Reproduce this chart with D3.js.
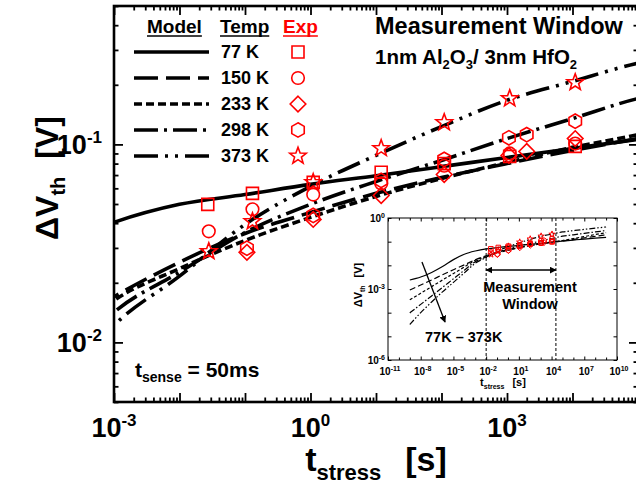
<!DOCTYPE html>
<html>
<head>
<meta charset="utf-8">
<script src="https://cdn.jsdelivr.net/npm/d3@7/dist/d3.min.js"></script>
<style>
body { margin: 0; background: #fff; }
svg text { font-family: "Liberation Sans", Arial, sans-serif; font-weight: bold; }
</style>
</head>
<body>
<svg id="chart" width="636" height="491"></svg>
<script>
// ---- data ----
var temps = ['77 K', '150 K', '233 K', '298 K', '373 K'];

// model curves, t_stress [s] vs dVth [V]
var modelT   = [1e-9, 1e-8, 1e-7, 1e-6, 1e-5, 1e-4, 1e-3, 1e-2, 1e-1, 1, 10, 100, 1e3, 1e4, 1e5, 1e6, 1e7, 1e8, 1e9];
var model77  = [0.0024, 0.0032, 0.0050, 0.0089, 0.0174, 0.0295, 0.0404, 0.0498, 0.0558, 0.0628, 0.0695, 0.0772, 0.0859, 0.0954, 0.106, 0.117, 0.129, 0.141, 0.152];
var model150 = [0.00091, 0.00148, 0.0024, 0.0040, 0.0065, 0.0105, 0.0170, 0.0254, 0.0355, 0.0453, 0.0566, 0.068, 0.080, 0.0932, 0.107, 0.124, 0.145, 0.168, 0.195];
var model233 = [0.00035, 0.00066, 0.00126, 0.0024, 0.0045, 0.0085, 0.0163, 0.0236, 0.0327, 0.0428, 0.0546, 0.0673, 0.081, 0.0966, 0.112, 0.135, 0.164, 0.20, 0.24];
var model298 = [0.0000977, 0.000224, 0.00051, 0.00117, 0.0027, 0.0062, 0.0142, 0.0226, 0.0359, 0.0498, 0.065, 0.083, 0.107, 0.135, 0.1705, 0.195, 0.224, 0.257, 0.295];
var model373 = [0.0000316, 0.0001, 0.000282, 0.00076, 0.0019, 0.0048, 0.0122, 0.0216, 0.0394, 0.0614, 0.088, 0.123, 0.167, 0.208, 0.257, 0.292, 0.331, 0.372, 0.417];

// measured points
var exp77T  = [0.027, 0.13, 1.1, 12, 110, 1100, 11000];
var exp77V  = [0.0498, 0.0566, 0.0643, 0.0723, 0.080, 0.087, 0.0977];
var exp150T = [0.028, 0.13, 1.1, 12, 110, 1100, 11000];
var exp150V = [0.0364, 0.047, 0.0558, 0.0635, 0.078, 0.090, 0.101];
var exp233T = [0.107, 1.1, 12, 110, 1070, 2000, 11000];
var exp233V = [0.0285, 0.0418, 0.0552, 0.0705, 0.088, 0.0922, 0.107];
var exp298T = [0.107, 1.1, 12, 110, 1070, 2000, 11000];
var exp298V = [0.0299, 0.0438, 0.0658, 0.084, 0.108, 0.112, 0.131];
var exp373T = [0.028, 0.13, 1.1, 12, 110, 1100, 11000];
var exp373V = [0.0288, 0.0408, 0.0643, 0.0955, 0.129, 0.1705, 0.2056];

// tick labels
var xTickVals = [1e-3, 1e0, 1e3];
var xTickExp  = ['-3', '0', '3'];
var yTickVals = [1e-2, 1e-1];
var yTickExp  = ['-2', '-1'];
var insetXTickVals = [1e-11, 1e-8, 1e-5, 1e-2, 1e1, 1e4, 1e7, 1e10];
var insetXTickExp  = ['-11', '-8', '-5', '-2', '1', '4', '7', '10'];
var insetYTickVals = [1e-6, 1e-3, 1e0];
var insetYTickExp  = ['-6', '-3', '0'];
var windowT = [0.01, 25000];

// ---- styles ----
var RED = '#ff0000';
var shapes = ['square', 'circle', 'diamond', 'hexagon', 'star'];
var dashes = [null, '24,8', '8,4', '24,6,3,6', '24,7,3,7,3,7'];
var insetDashes = [null, '6,3', '3,2', '6,2,1.5,2', '6,2,1.5,2,1.5,2'];

var models = [model77, model150, model233, model298, model373];
var expTs = [exp77T, exp150T, exp233T, exp298T, exp373T];
var expVs = [exp77V, exp150V, exp233V, exp298V, exp373V];

var svg = d3.select('#chart');
var defs = svg.append('defs');

var x = d3.scaleLog().domain([1e-3, 1e5]).range([114, 638]);
var y = d3.scaleLog().domain([0.005, 0.5]).range([402, 6]);

var ix = d3.scaleLog().domain([1e-11, 1e10]).range([388, 617]);
var iy = d3.scaleLog().domain([1e-6, 1]).range([360, 218]);

defs.append('clipPath').attr('id', 'clipMain').append('rect')
  .attr('x', 114).attr('y', 6).attr('width', 524).attr('height', 396);
defs.append('clipPath').attr('id', 'clipInset').append('rect')
  .attr('x', 388).attr('y', 218).attr('width', 229).attr('height', 142);

defs.append('marker').attr('id', 'head').attr('viewBox', '0 0 10 10')
  .attr('refX', 9).attr('refY', 5).attr('markerWidth', 7).attr('markerHeight', 7)
  .attr('markerUnits', 'userSpaceOnUse').attr('orient', 'auto-start-reverse')
  .append('path').attr('d', 'M0,0L10,5L0,10Z').attr('fill', '#000');

function markerPath(shape, s) {
  if (shape === 'circle') return d3.symbol(d3.symbolCircle, Math.PI * s * s * 1.1)();
  var pts = [], i, a, r;
  if (shape === 'square') pts = [[-s, -s], [s, -s], [s, s], [-s, s]];
  if (shape === 'diamond') pts = [[0, -s * 1.3], [s * 1.3, 0], [0, s * 1.3], [-s * 1.3, 0]];
  if (shape === 'hexagon') {
    for (i = 0; i < 6; i++) { a = Math.PI / 3 * i - Math.PI / 2; pts.push([s * 1.2 * Math.cos(a), s * 1.2 * Math.sin(a)]); }
  }
  if (shape === 'star') {
    for (i = 0; i < 10; i++) {
      a = Math.PI / 5 * i - Math.PI / 2; r = i % 2 ? s * 0.6 : s * 1.45;
      pts.push([r * Math.cos(a), r * Math.sin(a)]);
    }
  }
  return 'M' + pts.map(function(p) { return p[0].toFixed(2) + ',' + p[1].toFixed(2); }).join('L') + 'Z';
}

function minorTicks(lo, hi, dom) {
  var out = [];
  for (var k = lo; k <= hi; k++) for (var m = 2; m < 10; m++) {
    var v = m * Math.pow(10, k);
    if (v >= dom[0] * 0.999 && v <= dom[1] * 1.001) out.push(v);
  }
  return out;
}
function decades(lo, hi) { return d3.range(lo, hi + 1).map(function(k) { return Math.pow(10, k); }); }

function addAxes(parent, xs, ys, xMaj, xMin, yMaj, yMin, tl, ts, sw, fw) {
  var xr = xs.range(), yr = ys.range();
  var sides = [
    {ax: d3.axisBottom(xs), tr: 'translate(0,' + yr[0] + ')', maj: xMaj, min: xMin},
    {ax: d3.axisTop(xs), tr: 'translate(0,' + yr[1] + ')', maj: xMaj, min: xMin},
    {ax: d3.axisLeft(ys), tr: 'translate(' + xr[0] + ',0)', maj: yMaj, min: yMin},
    {ax: d3.axisRight(ys), tr: 'translate(' + xr[1] + ',0)', maj: yMaj, min: yMin}
  ];
  sides.forEach(function(sd) {
    [[sd.maj, tl], [sd.min, ts]].forEach(function(p) {
      var g = parent.append('g').attr('transform', sd.tr)
        .call(sd.ax.tickValues(p[0]).tickSize(-p[1]).tickSizeOuter(0).tickFormat(function() { return ''; }));
      g.select('.domain').remove();
      g.selectAll('line').attr('stroke', '#000').attr('stroke-width', sw);
    });
  });
  parent.append('rect').attr('x', xr[0]).attr('y', yr[1])
    .attr('width', xr[1] - xr[0]).attr('height', yr[0] - yr[1])
    .attr('fill', 'none').attr('stroke', '#000').attr('stroke-width', fw);
}

function supText(t, base, exp, sfs, rise) {
  t.append('tspan').text(base);
  t.append('tspan').attr('font-size', sfs).attr('dy', -rise).text(exp);
}

// ---- main plot ----
var lineMain = d3.line().x(function(d) { return x(d[0]); }).y(function(d) { return y(d[1]); }).curve(d3.curveMonotoneX);

var curves = svg.append('g').attr('clip-path', 'url(#clipMain)');
models.forEach(function(m, i) {
  curves.append('path').datum(d3.zip(modelT, m))
    .attr('d', lineMain).attr('fill', 'none').attr('stroke', '#000')
    .attr('stroke-width', 3.6).attr('stroke-dasharray', dashes[i]);
});

var pts = svg.append('g');
expTs.forEach(function(ts, i) {
  pts.selectAll('.m' + i).data(d3.zip(ts, expVs[i])).enter().append('path')
    .attr('class', 'm' + i)
    .attr('transform', function(d) { return 'translate(' + x(d[0]) + ',' + y(d[1]) + ')'; })
    .attr('d', markerPath(shapes[i], 6))
    .attr('fill', 'none').attr('stroke', RED).attr('stroke-width', 1.6);
});

addAxes(svg.append('g'), x, y, decades(-3, 5), minorTicks(-3, 4, x.domain()),
  decades(-2, -1), minorTicks(-3, -1, y.domain()), 9, 4.5, 1.8, 2.6);

xTickVals.forEach(function(v, i) {
  var t = svg.append('text').attr('x', x(v)).attr('y', 437).attr('text-anchor', 'middle').attr('font-size', 27);
  supText(t, '10', xTickExp[i], 17, 11);
});
yTickVals.forEach(function(v, i) {
  var t = svg.append('text').attr('x', 102).attr('y', y(v) + 10).attr('text-anchor', 'end').attr('font-size', 27);
  supText(t, '10', yTickExp[i], 17, 11);
});

// axis titles
var yt = svg.append('text').attr('transform', 'translate(58,178) rotate(-90)')
  .attr('text-anchor', 'middle').attr('font-size', 32);
yt.append('tspan').text('\u0394V');
yt.append('tspan').attr('font-size', 20).attr('dy', 7).text('th');
yt.append('tspan').attr('dy', -7).attr('dx', 18).text('[V]');

var xt = svg.append('text').attr('x', 376).attr('y', 471).attr('text-anchor', 'middle').attr('font-size', 34);
xt.append('tspan').text('t');
xt.append('tspan').attr('font-size', 22).attr('dy', 9).text('stress');
xt.append('tspan').attr('dy', -9).attr('dx', 24).text('[s]');

var ts = svg.append('text').attr('x', 135).attr('y', 377).attr('font-size', 21);
ts.append('tspan').text('t');
ts.append('tspan').attr('font-size', 14).attr('dy', 5).text('sense');
ts.append('tspan').attr('dy', -5).text(' = 50ms');

// titles
svg.append('text').attr('x', 375).attr('y', 34).attr('font-size', 23.5).text('Measurement Window');
var st = svg.append('text').attr('x', 375).attr('y', 64).attr('font-size', 20.5);
st.append('tspan').text('1nm Al');
st.append('tspan').attr('font-size', 13).attr('dy', 5).text('2');
st.append('tspan').attr('dy', -5).text('O');
st.append('tspan').attr('font-size', 13).attr('dy', 5).text('3');
st.append('tspan').attr('dy', -5).text('/ 3nm HfO');
st.append('tspan').attr('font-size', 13).attr('dy', 5).text('2');

// legend
var heads = [['Model', 147, '#000'], ['Temp', 220, '#000'], ['Exp', 283, RED]];
heads.forEach(function(h) {
  var t = svg.append('text').attr('x', h[1]).attr('y', 33).attr('font-size', 19).attr('fill', h[2]).text(h[0]);
  var w = t.node().getComputedTextLength();
  svg.append('line').attr('x1', h[1]).attr('x2', h[1] + w).attr('y1', 36).attr('y2', 36)
    .attr('stroke', h[2]).attr('stroke-width', 1.6);
});
temps.forEach(function(name, i) {
  var yc = 52 + 26 * i;
  svg.append('line').attr('x1', 134).attr('x2', 209).attr('y1', yc).attr('y2', yc)
    .attr('stroke', '#000').attr('stroke-width', 3.6).attr('stroke-dasharray', dashes[i]);
  svg.append('text').attr('x', 221).attr('y', yc + 6).attr('font-size', 18).text(name);
  svg.append('path').attr('transform', 'translate(298,' + yc + ')')
    .attr('d', markerPath(shapes[i], 6)).attr('fill', 'none').attr('stroke', RED).attr('stroke-width', 1.6);
});

// ---- inset ----
var inset = svg.append('g');
inset.append('rect').attr('x', 388).attr('y', 218).attr('width', 229).attr('height', 142).attr('fill', '#fff');

var lineInset = d3.line().x(function(d) { return ix(d[0]); }).y(function(d) { return iy(d[1]); }).curve(d3.curveMonotoneX);
var icurves = inset.append('g').attr('clip-path', 'url(#clipInset)');
models.forEach(function(m, i) {
  icurves.append('path').datum(d3.zip(modelT, m))
    .attr('d', lineInset).attr('fill', 'none').attr('stroke', '#000')
    .attr('stroke-width', 1.2).attr('stroke-dasharray', insetDashes[i]);
});
windowT.forEach(function(t) {
  inset.append('line').attr('x1', ix(t)).attr('x2', ix(t)).attr('y1', 218).attr('y2', 360)
    .attr('stroke', '#000').attr('stroke-width', 1).attr('stroke-dasharray', '3,2');
});
expTs.forEach(function(tt, i) {
  inset.selectAll('.im' + i).data(d3.zip(tt, expVs[i])).enter().append('path')
    .attr('transform', function(d) { return 'translate(' + ix(d[0]) + ',' + iy(d[1]) + ')'; })
    .attr('d', markerPath(shapes[i], 2.3))
    .attr('fill', 'none').attr('stroke', RED).attr('stroke-width', 1);
});

addAxes(inset.append('g'), ix, iy, insetXTickVals, decades(-11, 10).filter(function(v, k) { return k % 3; }),
  decades(-6, 0), [], 3.5, 2.5, 1, 1);

insetXTickVals.forEach(function(v, i) {
  var t = inset.append('text').attr('x', ix(v) + 2).attr('y', 375).attr('text-anchor', 'middle').attr('font-size', 10);
  supText(t, '10', insetXTickExp[i], 7, 4);
});
insetYTickVals.forEach(function(v, i) {
  var t = inset.append('text').attr('x', 385).attr('y', iy(v) + 4).attr('text-anchor', 'end').attr('font-size', 10);
  supText(t, '10', insetYTickExp[i], 7, 4);
});
var iyt = inset.append('text').attr('transform', 'translate(362,285) rotate(-90)')
  .attr('text-anchor', 'middle').attr('font-size', 11);
iyt.append('tspan').text('\u0394V');
iyt.append('tspan').attr('font-size', 7).attr('dy', 3).text('th');
iyt.append('tspan').attr('dy', -3).attr('dx', 8).text('[V]');
var ixt = inset.append('text').attr('x', 503).attr('y', 386).attr('text-anchor', 'middle').attr('font-size', 11);
ixt.append('tspan').text('t');
ixt.append('tspan').attr('font-size', 7).attr('dy', 3).text('stress');
ixt.append('tspan').attr('dy', -3).attr('dx', 8).text('[s]');

// measurement window arrow + labels
inset.append('line').attr('x1', ix(windowT[0])).attr('x2', ix(windowT[1]))
  .attr('y1', iy(0.0063)).attr('y2', iy(0.0063))
  .attr('stroke', '#000').attr('stroke-width', 1.5)
  .attr('marker-start', 'url(#head)').attr('marker-end', 'url(#head)');
inset.append('text').attr('x', 530).attr('y', 292).attr('text-anchor', 'middle').attr('font-size', 14.5).text('Measurement');
inset.append('text').attr('x', 530).attr('y', 309).attr('text-anchor', 'middle').attr('font-size', 14.5).text('Window');

inset.append('line').attr('x1', ix(1.3e-8)).attr('y1', iy(0.0138)).attr('x2', ix(1.7e-6)).attr('y2', iy(4e-5))
  .attr('stroke', '#000').attr('stroke-width', 1.3).attr('marker-end', 'url(#head)');
inset.append('text').attr('x', 425).attr('y', 342).attr('font-size', 14.5).text('77K \u2013 373K');
</script>
</body>
</html>
